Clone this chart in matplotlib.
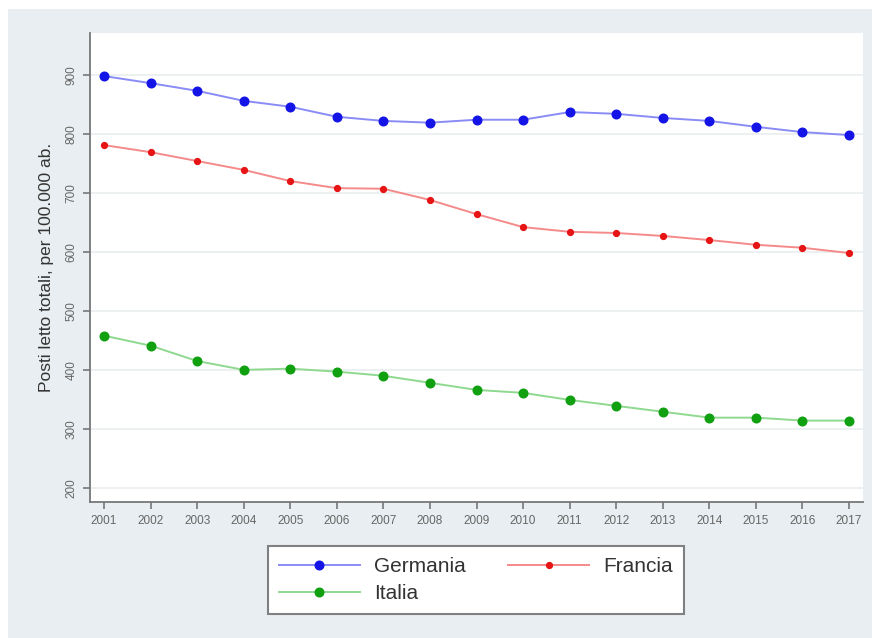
import matplotlib
matplotlib.use("Agg")
import matplotlib.pyplot as plt
from matplotlib.patches import Rectangle

plt.rcParams["font.family"] = ["Liberation Sans", "DejaVu Sans"]

years = list(range(2001, 2018))
germania = [898, 886, 873, 856, 846, 829, 822, 819, 824, 824, 837, 834, 827, 822, 812, 803, 798]
francia = [781, 769, 754, 739, 720, 708, 707, 688, 664, 642, 634, 632, 627, 620, 612, 607, 598]
italia = [458, 441, 415, 400, 402, 397, 390, 378, 366, 361, 349, 339, 329, 319, 319, 314, 314]
y_ticks = [200, 300, 400, 500, 600, 700, 800, 900]
y_label = "Posti letto totali, per 100.000 ab."

W, H = 872, 638
fig = plt.figure(figsize=(W / 100, H / 100), dpi=100)
fig.patch.set_facecolor("white")

# light graph-region panel behind the plot
panel = Rectangle((8 / W, 0), 1 - 8 / W, 1 - 9 / H,
                  transform=fig.transFigure, facecolor="#e8eef1",
                  edgecolor="none", zorder=-10)
fig.patches.append(panel)

ax = fig.add_axes([90 / W, 1 - 502 / H, (863 - 90) / W, (502 - 33) / H])
ax.set_zorder(2)
ax.set_facecolor("white")

series = [
    ("Germania", germania, "#8a8cf5", "#1414e6", 6.2),
    ("Francia", francia, "#f58a8a", "#e61414", 4.2),
    ("Italia", italia, "#8fd88f", "#10a010", 6.2),
]
handles = {}
for name, vals, lc, mc, ms in series:
    h, = ax.plot(years, vals, color=lc, lw=1.4, marker="o", ms=ms,
                 markerfacecolor=mc, markeredgecolor=mc, label=name, zorder=3)
    handles[name] = h

ax.set_xlim(2000.7, 2017.3)
ax.set_ylim(176, 971)
ax.set_xticks(years)
ax.set_xticklabels([str(y) for y in years])
ax.set_yticks(y_ticks)
ax.set_yticklabels([str(v) for v in y_ticks], rotation=90, va="center")

ax.grid(axis="y", color="#eceff0", lw=1.3)
ax.set_axisbelow(True)

for s in ["top", "right"]:
    ax.spines[s].set_visible(False)
for s in ["left", "bottom"]:
    ax.spines[s].set_color("#777777")
    ax.spines[s].set_linewidth(1.3)

ax.tick_params(axis="both", colors="#777777", length=5, width=1.2,
               labelcolor="#666666", labelsize=8.5, pad=4)

ax.set_ylabel(y_label, fontsize=12.5, color="#333333", labelpad=8)

# two-column legend: Germania / Francia on the first row, Italia below
order = ["Germania", "Italia", "Francia"]
leg = fig.legend(handles=[handles[n] for n in order], labels=order, ncol=2,
                 loc="center", bbox_to_anchor=(476 / W, 1 - 580 / H),
                 fontsize=15, frameon=True, fancybox=False, framealpha=1,
                 handlelength=3.9, handletextpad=0.7, columnspacing=2.0,
                 labelspacing=0.4, borderpad=0.5, labelcolor="#333333")
leg.set_zorder(3)
leg.get_frame().set_edgecolor("#808080")
leg.get_frame().set_linewidth(1.5)
leg.get_frame().set_facecolor("white")

fig.savefig("out.png", dpi=100, facecolor=fig.get_facecolor())
